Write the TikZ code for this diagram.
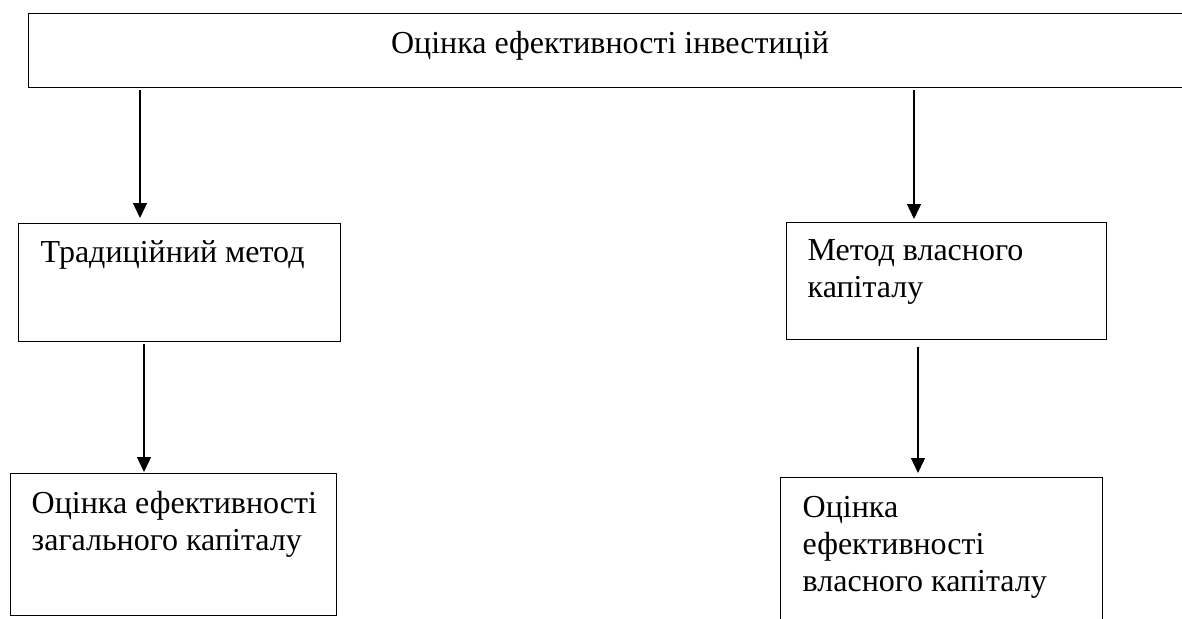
\documentclass[tikz,border=0pt]{standalone}
\usepackage{fontspec}
\setmainfont{Liberation Serif}
\usetikzlibrary{arrows.meta}
\begin{document}
\begin{tikzpicture}[x=1pt,y=-1pt,line width=1.4pt,
  box/.style={draw, inner sep=0pt, anchor=north west},
  lbl/.style={anchor=north west, inner sep=0pt, align=left, font=\fontsize{32}{37}\selectfont},
  arr/.style={-{Triangle[length=15pt,width=14pt]}}]
\useasboundingbox (0,0) rectangle (1182,618);
\clip (0,0) rectangle (1182,618);
% boxes
\node[box, minimum width=1162pt, minimum height=74pt] (top) at (28,13) {};
\node[box, minimum width=322pt, minimum height=118pt] (trad) at (18,223) {};
\node[box, minimum width=320pt, minimum height=117pt] (own) at (786,222) {};
\node[box, minimum width=326pt, minimum height=142pt] (gen) at (10,473) {};
\node[box, minimum width=322pt, minimum height=170pt] (owncap) at (780,477) {};
% texts
\node[anchor=base, inner sep=0pt, font=\fontsize{32}{37}\selectfont] (toptext) at (610,53) {Оцінка ефективності інвестицій};
\node[lbl] (tradtext) at (40,236.1) {\strut Традиційний метод};
\node[lbl] (owntext) at (807,234.1) {\strut Метод власного\\капіталу};
\node[lbl] (gentext) at (31,487.1) {\strut Оцінка ефективності\\загального капіталу};
\node[lbl] (owncaptext) at (802,491.1) {\strut Оцінка\\ефективності\\власного капіталу};
% arrow columns
\coordinate (c1) at (140,0);
\coordinate (c2) at (914,0);
\coordinate (c3) at (144,0);
\coordinate (c4) at (918,0);
\draw[arr, shorten <=2pt, shorten >=5pt] (top.south -| c1) -- (trad.north -| c1);
\draw[arr, shorten <=2pt, shorten >=3pt] (top.south -| c2) -- (own.north -| c2);
\draw[arr, shorten <=2pt, shorten >=1pt] (trad.south -| c3) -- (gen.north -| c3);
\draw[arr, shorten <=7pt, shorten >=4pt] (own.south -| c4) -- (owncap.north -| c4);
\end{tikzpicture}
\end{document}
